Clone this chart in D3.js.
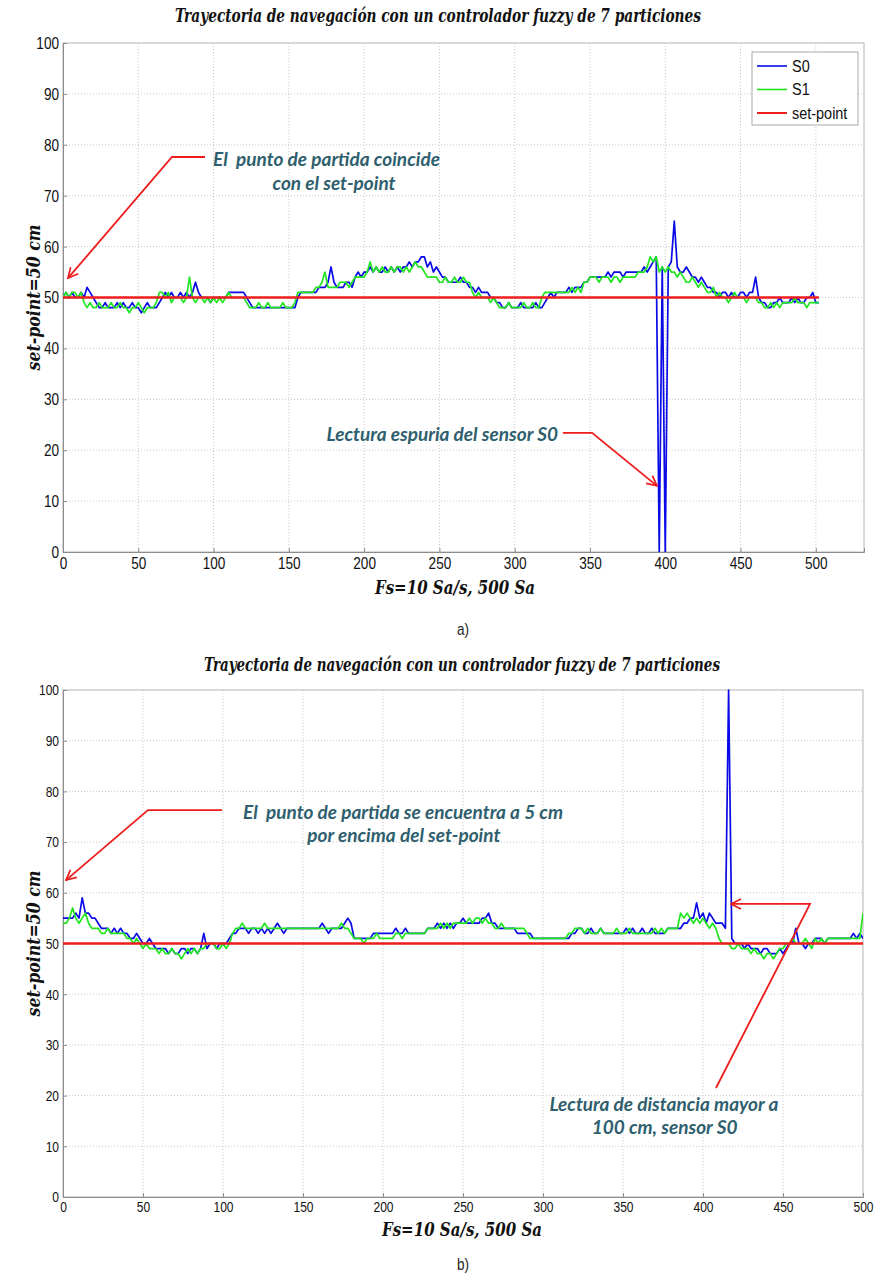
<!DOCTYPE html>
<html><head><meta charset="utf-8">
<script src="https://cdnjs.cloudflare.com/ajax/libs/d3/7.8.5/d3.min.js"></script>
<style>body{margin:0;background:#fff} text.pre{white-space:pre}</style>
</head><body>
<svg id="c" width="874" height="1274"></svg>
<script>
// ---------- DATA ----------
const titleText = "Trayectoria de navegación con un controlador fuzzy de 7 particiones";
const xLabelText = "Fs=10 Sa/s, 500 Sa";
const yLabelText = "set-point=50 cm";
const xTicks = [0,50,100,150,200,250,300,350,400,450,500];
const yTicks = [0,10,20,30,40,50,60,70,80,90,100];
const seriesNames = ["S0","S1","set-point"];
const setPoint = 50;
const sampleStep = 2; // one value every 2 samples

// Chart a) sensor S0 (blue)
const aS0 = [
50,51,50,51,50,50,51,50,52,51,
50,49,48,48,49,48,48,48,49,48,
49,48,48,49,48,48,47,48,49,48,
48,48,49,50,51,50,51,50,50,51,
50,51,50,51,53,51,50,50,50,49,
50,50,50,50,50,51,51,51,51,51,
51,50,49,48,48,48,48,48,48,48,
48,48,48,48,48,48,48,48,50,51,
51,51,51,51,51,52,52,52,53,56,
53,52,52,52,53,53,52,54,55,54,
55,55,56,55,56,55,55,56,55,56,
55,56,55,56,56,57,56,57,57,58,
58,56,57,55,56,55,54,54,53,53,
53,53,54,53,53,52,52,51,52,51,
51,51,50,50,49,49,48,48,49,48,
48,48,49,48,48,48,48,49,48,48,
49,50,51,50,51,51,51,51,52,51,
52,52,52,53,53,54,54,54,54,54,
54,55,54,55,55,55,54,55,55,55,
55,55,55,56,55,56,57,58,0,56,
0,56,57,65,56,55,55,56,55,54,
54,53,54,53,52,52,51,51,50,51,
51,50,51,50,50,51,51,50,51,51,
54,50,49,49,48,48,49,49,50,49,
49,49,50,49,50,49,49,50,50,51,
49,49];
// Chart a) sensor S1 (green)
const aS1 = [
50,51,50,51,51,50,51,49,48,49,
48,48,49,48,48,48,49,48,48,49,
48,48,47,48,48,49,48,47,48,48,
48,49,51,51,50,51,49,50,50,50,
49,50,54,50,49,50,50,49,50,49,
50,49,50,49,50,51,50,50,50,50,
50,49,48,48,48,49,48,48,49,48,
48,48,48,49,48,48,48,49,51,51,
51,51,51,51,52,52,53,55,52,52,
52,52,53,53,53,52,53,54,54,54,
54,55,57,55,56,55,56,55,55,56,
55,56,56,55,56,55,56,57,56,56,
55,54,54,54,54,53,53,54,53,53,
54,53,53,54,53,53,51,50,51,50,
50,50,49,50,49,48,48,48,49,48,
48,48,48,49,48,48,49,48,48,50,
51,51,51,51,51,51,51,51,51,52,
51,52,51,53,53,54,54,54,53,54,
54,54,53,54,54,53,54,54,54,54,
54,55,55,55,56,58,57,58,55,56,
55,56,55,55,54,55,54,53,53,54,
53,52,53,52,51,51,52,50,51,50,
50,49,50,51,50,50,50,49,50,50,
50,49,49,48,48,49,48,49,48,49,
49,49,49,50,49,49,49,48,49,49,
49,49];
// Chart b) sensor S0 (blue)
const bS0 = [
55,55,55,55,56,55,59,56,56,55,
55,54,53,53,53,52,53,52,53,52,
52,51,51,52,51,50,50,51,50,49,
49,49,49,48,49,48,48,49,49,48,
49,49,48,49,52,49,50,50,49,50,
50,50,51,52,52,53,53,53,52,53,
53,52,53,52,53,52,53,54,53,52,
53,53,53,53,53,53,53,53,53,53,
53,54,53,52,53,53,53,53,54,55,
54,51,51,51,51,51,51,52,52,52,
52,52,52,52,53,52,52,53,52,52,
52,52,52,52,53,53,53,54,53,54,
53,54,53,54,54,55,54,54,54,54,
54,55,55,56,54,54,53,53,53,53,
53,53,52,52,52,52,52,51,51,51,
51,51,51,51,51,51,51,51,51,52,
52,53,53,52,52,53,52,52,53,52,
52,52,52,52,52,52,53,52,53,52,
52,53,52,52,53,52,52,52,52,53,
53,53,53,53,54,54,55,55,58,55,
56,54,56,55,54,54,54,53,100,51,
50,50,50,49,50,49,49,49,48,49,
49,48,48,48,49,48,49,50,50,53,
50,50,49,50,50,51,51,51,50,51,
51,51,51,51,51,51,51,52,51,52,
51];
// Chart b) sensor S1 (green)
const bS1 = [
54,54,55,57,55,54,55,56,54,53,
53,53,52,52,53,52,52,52,52,52,
51,51,50,51,50,49,50,49,49,49,
48,49,48,48,49,48,48,47,48,49,
48,49,48,49,49,50,50,50,49,49,
50,49,50,52,53,53,54,53,53,53,
53,53,53,54,53,53,53,53,53,53,
53,53,53,53,53,53,53,53,53,53,
53,53,53,53,53,53,53,54,53,53,
52,51,51,51,50,51,51,51,52,51,
51,51,51,51,52,52,51,52,52,52,
52,52,52,52,53,53,53,53,54,53,
54,53,54,54,54,54,54,55,54,55,
55,54,55,54,54,53,53,54,53,53,
53,53,53,53,53,52,51,51,51,51,
51,51,51,51,51,51,51,51,52,52,
53,53,53,52,53,52,52,52,53,52,
52,52,52,53,52,52,52,53,52,52,
52,52,52,52,52,53,52,53,52,53,
53,53,53,56,55,56,55,54,55,54,
55,54,53,54,53,51,50,50,50,49,
49,50,49,49,49,48,49,48,48,47,
48,48,47,48,49,49,50,50,51,50,
50,50,51,50,49,51,50,51,50,51,
51,51,51,51,51,51,51,51,51,51,
56];

// annotations (in data units)
const aNotes = [
  {lines:["El  punto de partida coincide","con el set-point"], x:[175,180], y:[75.8,71.1], anchor:"middle"},
  {lines:["Lectura espuria del sensor S0"], x:[328.8], y:[21.8], anchor:"end"}
];
const aArrows = [
  [[94.3,77.6],[72.4,77.6],[3.3,53.8]],
  [[332,23.4],[351.4,23.4],[394.5,13.0]]
];
const bNotes = [
  {lines:["El  punto de partida se encuentra a 5 cm","por encima del set-point"], x:[212.5,213], y:[74.6,70.0], anchor:"middle"},
  {lines:["Lectura de distancia mayor a","100 cm, sensor S0"], x:[375.6,376], y:[17.0,12.4], anchor:"middle"}
];
const bArrows = [
  [[99.4,76.3],[53.1,76.3],[1.9,62.5]],
  [[408.1,21.5],[466.9,57.8],[417.5,57.8]]
];

// ---------- DRAW ----------
const svg = d3.select("#c");
const COL_S0 = "#0a0ae6", COL_S1 = "#1fe61f", COL_SP = "#ee1c1c", NOTE = "#2f5f6e";
const NARROW = "'Liberation Sans Narrow','Arial Narrow','Liberation Sans',Arial,sans-serif";
const SERIF = "'DejaVu Serif Condensed','DejaVu Serif',serif";

const defs = svg.append("defs");
defs.append("marker").attr("id","ah").attr("viewBox","0 0 12 12").attr("refX",11).attr("refY",6)
  .attr("markerWidth",12).attr("markerHeight",12).attr("markerUnits","userSpaceOnUse").attr("orient","auto")
  .append("path").attr("d","M1,1 L11,6 L1,11").attr("fill","none").attr("stroke",COL_SP).attr("stroke-width",1.7);

function drawChart(cfg){
  const g = svg.append("g");
  const x = d3.scaleLinear().domain([0,cfg.xMax]).range([cfg.left,cfg.right]);
  const y = d3.scaleLinear().domain([0,100]).range([cfg.bottom,cfg.top]);
  const cid = "clip"+cfg.id;
  defs.append("clipPath").attr("id",cid).append("rect")
    .attr("x",cfg.left).attr("y",cfg.top-1).attr("width",cfg.right-cfg.left).attr("height",cfg.bottom-cfg.top+1);

  // grid
  g.append("g").selectAll("line").data(xTicks.filter(t=>t>0 && t<cfg.xMax)).join("line")
    .attr("x1",d=>x(d)).attr("x2",d=>x(d)).attr("y1",cfg.top).attr("y2",cfg.bottom)
    .attr("stroke","#c8c8c8").attr("stroke-width",1).attr("stroke-dasharray","1,2");
  g.append("g").selectAll("line").data(yTicks.filter(t=>t>0 && t<100)).join("line")
    .attr("x1",cfg.left).attr("x2",cfg.right).attr("y1",d=>y(d)).attr("y2",d=>y(d))
    .attr("stroke","#c8c8c8").attr("stroke-width",1).attr("stroke-dasharray","1,2");

  // box
  g.append("rect").attr("x",cfg.left).attr("y",cfg.top).attr("width",cfg.right-cfg.left).attr("height",cfg.bottom-cfg.top)
    .attr("fill","none").attr("stroke","#b4b4b4").attr("stroke-width",1);

  // axes
  const xa = g.append("g").attr("transform",`translate(0,${cfg.bottom})`)
    .call(d3.axisBottom(x).tickValues(xTicks).tickSize(-4).tickPadding(4).tickFormat(d3.format("d")));
  const ya = g.append("g").attr("transform",`translate(${cfg.left},0)`)
    .call(d3.axisLeft(y).tickValues(yTicks).tickSize(-4).tickPadding(5).tickFormat(d3.format("d")));
  [xa,ya].forEach(a=>{
    a.select(".domain").attr("stroke","#8c8c8c");
    a.selectAll(".tick line").attr("stroke","#8c8c8c");
    a.selectAll("text").attr("font-family",NARROW)
      .attr("font-size",cfg.tickFont).attr("fill","#111").attr("transform","scale(0.8,1)");
  });
  xa.selectAll("text").attr("dy",cfg.xdy);

  // series
  const line = d3.line().x((d,i)=>x(i*sampleStep)).y(d=>y(d));
  const lg = g.append("g").attr("clip-path",`url(#${cid})`);
  lg.append("path").datum(cfg.s0).attr("d",line).attr("fill","none").attr("stroke",COL_S0).attr("stroke-width",1.7).attr("stroke-linejoin","round");
  lg.append("path").datum(cfg.s1).attr("d",line).attr("fill","none").attr("stroke",COL_S1).attr("stroke-width",1.7).attr("stroke-linejoin","round");
  lg.append("line").attr("x1",x(0)).attr("x2",x((cfg.s0.length-1)*sampleStep))
    .attr("y1",y(setPoint)).attr("y2",y(setPoint)).attr("stroke",COL_SP).attr("stroke-width",2.4);

  // title / labels
  svg.append("text").attr("x",cfg.titleX).attr("y",cfg.titleY).attr("text-anchor","middle")
    .attr("font-family",SERIF).attr("font-style","italic").attr("font-weight","bold")
    .attr("font-size",18).attr("textLength",cfg.titleLen).attr("lengthAdjust","spacingAndGlyphs").attr("fill","#111").text(titleText);
  svg.append("text").attr("x",cfg.xlX).attr("y",cfg.xlY).attr("text-anchor","middle")
    .attr("font-family",SERIF).attr("font-style","italic").attr("font-weight","bold")
    .attr("font-size",19).attr("textLength",160).attr("lengthAdjust","spacingAndGlyphs").attr("fill","#111").text(xLabelText);
  svg.append("text").attr("transform",`translate(${cfg.ylX},${y(50)}) rotate(-90)`).attr("text-anchor","middle")
    .attr("font-family",SERIF).attr("font-style","italic").attr("font-weight","bold")
    .attr("font-size",19).attr("textLength",146).attr("lengthAdjust","spacingAndGlyphs").attr("fill","#111").text(yLabelText);
  svg.append("text").attr("x",463).attr("y",cfg.subY).attr("text-anchor","middle")
    .attr("font-family",NARROW).attr("font-size",16).attr("fill","#222")
    .attr("transform",`translate(463,0) scale(0.85,1) translate(-463,0)`).text(cfg.sub);

  // annotations
  cfg.notes.forEach(n=>{
    n.lines.forEach((t,i)=>{
      svg.append("text").attr("class","pre").attr("x",x(n.x[i])).attr("y",y(n.y[i])).attr("text-anchor",n.anchor)
        .attr("font-family","Lato,'Open Sans',sans-serif").attr("font-style","italic").attr("font-weight","bold")
        .attr("font-size",19).attr("fill",NOTE).text(t);
    });
  });
  const al = d3.line().x(d=>x(d[0])).y(d=>y(d[1]));
  cfg.arrows.forEach(a=>{
    svg.append("path").attr("d",al(a)).attr("fill","none").attr("stroke",COL_SP).attr("stroke-width",1.8)
      .attr("marker-end","url(#ah)");
  });

  // legend
  if(cfg.legend){
    const L = svg.append("g").attr("transform",`translate(${cfg.legend[0]},${cfg.legend[1]})`);
    L.append("rect").attr("width",106).attr("height",73).attr("fill","#fff").attr("stroke","#a8a8a8");
    const cols=[COL_S0,COL_S1,COL_SP];
    seriesNames.forEach((nm,i)=>{
      const yy = 14 + i*23.5;
      L.append("line").attr("x1",5).attr("x2",35).attr("y1",yy).attr("y2",yy).attr("stroke",cols[i]).attr("stroke-width",i==2?2:1.6);
      L.append("text").attr("x",40/0.85).attr("y",yy+6).attr("font-family",NARROW).attr("transform","scale(0.85,1)")
        .attr("font-size",17).attr("fill","#111").text(nm);
    });
  }
}

drawChart({id:"a",left:63,right:864,top:43,bottom:552,xMax:532,tickFont:17,xdy:"0.78em",s0:aS0,s1:aS1,
  titleX:438,titleY:22,titleLen:526,xlX:455,xlY:594,ylX:40,subY:635,sub:"a)",
  notes:aNotes,arrows:aArrows,legend:[752,52]});
drawChart({id:"b",left:63,right:863,top:690,bottom:1197,xMax:500,tickFont:15,xdy:"0.72em",s0:bS0,s1:bS1,
  titleX:462,titleY:671,titleLen:516,xlX:462,xlY:1236,ylX:40,subY:1270,sub:"b)",
  notes:bNotes,arrows:bArrows,legend:null});
</script>
</body></html>
